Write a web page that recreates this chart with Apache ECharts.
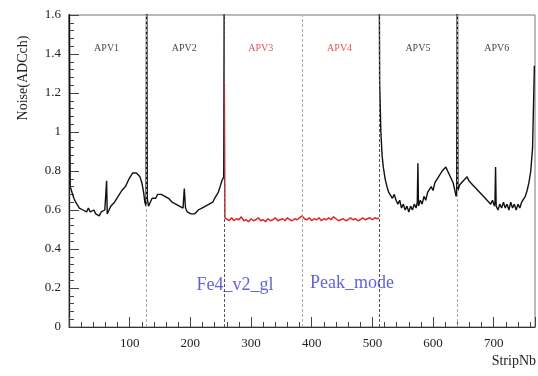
<!DOCTYPE html>
<html>
<head>
<meta charset="utf-8">
<script src="https://cdn.jsdelivr.net/npm/echarts@6/dist/echarts.min.js"></script>
<style>html,body{margin:0;padding:0;background:#fff}#c{width:538px;height:376px}</style>
</head>
<body>
<div id="c"></div>
<script>
// APV1-2 (black)
const apv12Strips = [0,1,2,5,8,11,14,17,20,23,26,29,32,35,38,41,44,47,50,53,56,59,61,62,63,66,69,72,75,78,81,84,87,90,93,96,99,102,105,108,111,114,117,120,123,125,127,128,
  129,131,134,137,140,143,146,149,152,155,158,161,164,167,170,173,176,179,182,185,188,190,192,195,198,201,204,207,210,213,216,219,222,225,228,231,234,237,240,243,246,249,252,255,256];
const apv12Noise  = [2.0,1.25,0.72,0.69,0.66,0.64,0.63,0.61,0.62,0.60,0.61,0.59,0.61,0.59,0.58,0.60,0.58,0.59,0.57,0.59,0.58,0.60,0.59,0.75,0.58,0.60,0.62,0.61,0.64,0.65,0.67,0.67,0.70,0.70,0.72,0.73,0.76,0.76,0.79,0.80,0.79,0.80,0.77,0.74,0.69,0.64,0.62,2.0,
  0.66,0.62,0.64,0.66,0.67,0.66,0.68,0.69,0.68,0.69,0.67,0.67,0.66,0.66,0.64,0.65,0.63,0.64,0.62,0.63,0.61,0.71,0.61,0.59,0.60,0.58,0.59,0.58,0.59,0.60,0.60,0.61,0.61,0.62,0.62,0.63,0.63,0.64,0.66,0.67,0.69,0.72,0.75,0.77,2.0];
// APV3-4 (red)
const apv34Strips = [256,257,260,264,268,272,276,280,284,288,292,296,300,304,308,312,316,320,324,328,332,336,340,344,348,352,356,360,364,368,372,376,380,384,388,392,396,400,404,408,412,416,420,424,428,432,436,440,444,448,452,456,460,464,468,472,476,480,484,488,492,496,500,504,508,511];
const apv34Noise  = [1.25,0.56,0.555,0.545,0.56,0.545,0.555,0.55,0.565,0.545,0.55,0.54,0.555,0.545,0.55,0.56,0.545,0.55,0.54,0.555,0.545,0.55,0.56,0.545,0.55,0.555,0.545,0.56,0.55,0.545,0.555,0.55,0.56,0.57,0.555,0.55,0.56,0.545,0.555,0.55,0.56,0.545,0.555,0.55,0.56,0.55,0.565,0.555,0.545,0.55,0.555,0.545,0.55,0.56,0.55,0.555,0.545,0.55,0.56,0.55,0.555,0.56,0.55,0.56,0.555,0.56];
// APV5-6 (black)
const apv56Strips = [511,512,514,516,518,521,524,527,530,533,536,539,542,545,548,551,554,557,560,563,566,569,572,574,575,576,579,582,585,588,591,594,597,600,603,606,609,612,615,618,621,624,627,630,633,636,638,639,640,
  641,644,647,650,653,656,659,662,665,668,671,674,677,680,683,686,689,692,695,698,701,702,703,704,707,710,713,716,719,722,725,728,731,734,737,740,743,746,749,752,755,758,761,764,767];
const apv56Noise  = [2.0,1.25,1.0,0.88,0.82,0.76,0.72,0.69,0.68,0.66,0.68,0.65,0.63,0.65,0.61,0.63,0.60,0.62,0.59,0.62,0.60,0.63,0.61,0.64,0.84,0.62,0.65,0.63,0.67,0.65,0.69,0.68,0.72,0.70,0.74,0.73,0.77,0.76,0.80,0.79,0.82,0.80,0.79,0.76,0.74,0.70,0.67,0.69,2.0,
  0.70,0.73,0.72,0.75,0.74,0.77,0.75,0.76,0.73,0.74,0.71,0.72,0.69,0.70,0.67,0.68,0.65,0.66,0.63,0.65,0.62,0.64,0.82,0.62,0.60,0.63,0.61,0.64,0.61,0.63,0.60,0.64,0.61,0.63,0.60,0.63,0.61,0.64,0.63,0.67,0.70,0.74,0.80,0.92,1.34];
const separatorStrips = [128,256,384,512,640];
const apvNames = ['APV1','APV2','APV3','APV4','APV5','APV6'];
const apvLabelStrips = [62,190,316,446,575,705];
const apvLabelY = 1.43;
const apvColors = ['#111','#111','#e0262a','#e0262a','#111','#111'];
const noteTexts = ['Fe4_v2_gl','Peak_mode'];
const noteStrips = [210,397];
const noteY = [0.215,0.225];
const xTicks = [100,200,300,400,500,600,700];

const zip = (a,b) => a.map((v,i)=>[v,b[i]]);
const serif = 'Liberation Serif';

const chart = echarts.init(document.getElementById('c'));
chart.setOption({
  animation:false,
  grid:{left:69,top:15,right:1,bottom:49,show:true,borderColor:'#777',borderWidth:1},
  xAxis:{type:'value',min:0,max:768,interval:100,
    axisLine:{onZero:false,lineStyle:{color:'#333',width:1}},
    axisTick:{inside:true,length:10,lineStyle:{color:'#444'}},
    minorTick:{show:true,splitNumber:5,length:5,lineStyle:{color:'#444'}},
    splitLine:{show:false},
    axisLabel:{fontFamily:serif,fontSize:13,color:'#222',margin:10,
      formatter:v=> xTicks.indexOf(v)>=0 ? String(v) : ''}
  },
  yAxis:{type:'value',min:0,max:1.6,interval:0.2,
    axisLine:{show:true,lineStyle:{color:'#222',width:1.3}},
    axisTick:{inside:true,length:10,lineStyle:{color:'#444'}},
    minorTick:{show:true,splitNumber:5,length:5,lineStyle:{color:'#444'}},
    splitLine:{show:false},
    axisLabel:{fontFamily:serif,fontSize:13,color:'#222',margin:8}
  },
  graphic:[
    {type:'text',x:23,y:78,rotation:Math.PI/2,style:{text:'Noise(ADCch)',font:'14px '+serif,fill:'#222',textAlign:'center',textVerticalAlign:'middle'}},
    {type:'text',right:2,top:354,style:{text:'StripNb',font:'14px '+serif,fill:'#222'}}
  ],
  series:[
    {type:'line',data:[],z:1,silent:true,
      markLine:{symbol:'none',silent:true,label:{show:false},
        data:separatorStrips.map((s,i)=>({xAxis:s,lineStyle:{type:[3,2],width:1,color:(i===1||i===3)?'#555':'#aaa'}}))}},
    {type:'line',data:zip(apv12Strips,apv12Noise),showSymbol:false,lineStyle:{color:'#111',width:1.4},z:3},
    {type:'line',data:zip(apv56Strips,apv56Noise),showSymbol:false,lineStyle:{color:'#111',width:1.4},z:3},
    {type:'line',data:zip(apv34Strips,apv34Noise),showSymbol:false,lineStyle:{color:'#e0262a',width:1.5},z:4},
    {type:'scatter',symbolSize:0,z:5,silent:true,
      data:apvNames.map((n,i)=>({value:[apvLabelStrips[i],apvLabelY],name:n,
        label:{show:true,formatter:n,position:'inside',fontFamily:serif,fontSize:10,color:apvColors[i]}}))},
    {type:'scatter',symbolSize:0,z:5,silent:true,
      data:noteTexts.map((n,i)=>({value:[noteStrips[i],noteY[i]],
        label:{show:true,formatter:n,position:'right',distance:0,fontFamily:serif,fontSize:18,color:'#3a3ad0'}}))}
  ]
});
</script>
</body>
</html>
